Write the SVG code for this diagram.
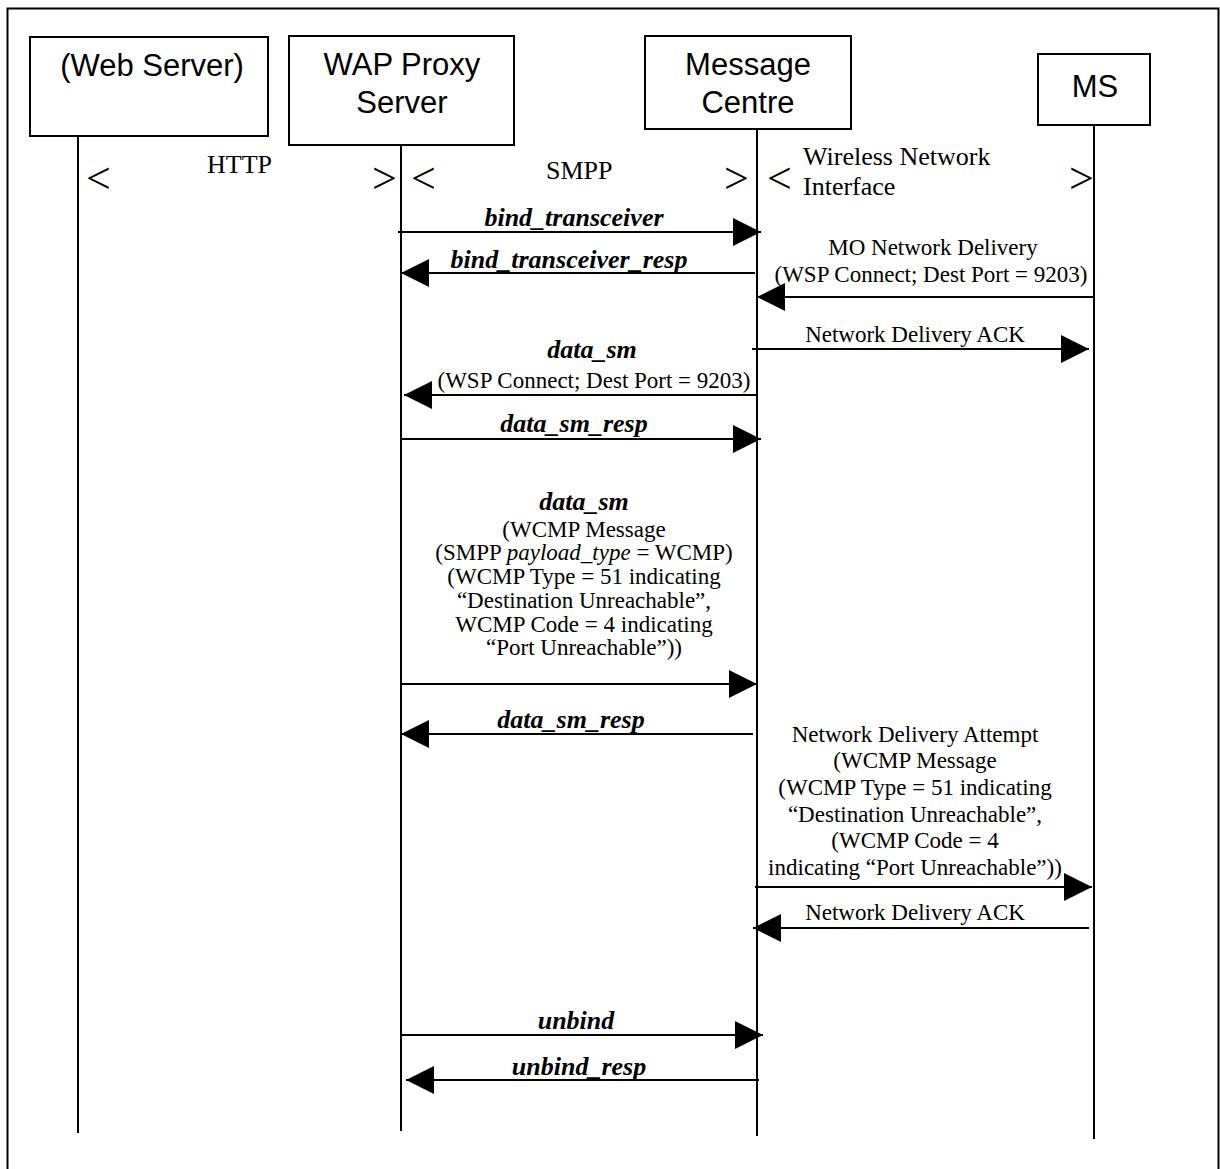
<svg xmlns="http://www.w3.org/2000/svg" width="1220" height="1169" viewBox="0 0 1220 1169">
  <style>
    .frame { fill: none; stroke: #000; stroke-width: 2; }
    .box { fill: #fff; stroke: #000; stroke-width: 2; }
    .life { stroke: #000; stroke-width: 2; fill: none; }
    .msg { stroke: #000; stroke-width: 2; fill: none; marker-end: url(#head); }
    .title { font-family: "Liberation Sans", Arial, sans-serif; font-size: 31px; fill: #000; text-anchor: middle; }
    .proto { font-family: "Liberation Serif", "Times New Roman", serif; font-size: 26px; fill: #000; }
    .chev { font-family: "Liberation Serif", "Times New Roman", serif; font-size: 44px; fill: #000; }
    .op { font-family: "Liberation Serif", "Times New Roman", serif; font-size: 26px; font-weight: bold; font-style: italic; fill: #000; text-anchor: middle; }
    .note { font-family: "Liberation Serif", "Times New Roman", serif; font-size: 23px; fill: #000; text-anchor: middle; }
  </style>
  <defs>
    <marker id="head" markerUnits="userSpaceOnUse" markerWidth="28" markerHeight="28" refX="28" refY="14" orient="auto" viewBox="0 0 28 28">
      <path d="M0,0 L28,14 L0,28 Z" fill="#000"/>
    </marker>
  </defs>

  <rect class="frame" x="7.5" y="8.5" width="1211" height="1200"/>

  <!-- lifelines -->
  <g id="lifelines">
    <line class="life" x1="78" y1="136" x2="78" y2="1133"/>
    <line class="life" x1="401" y1="145" x2="401" y2="1131"/>
    <line class="life" x1="757" y1="129" x2="757" y2="1136"/>
    <line class="life" x1="1094" y1="125" x2="1094" y2="1139"/>
  </g>

  <!-- participants -->
  <g id="web-server">
    <rect class="box" x="30" y="37" width="238" height="99"/>
    <text class="title" x="152" y="76">(Web Server)</text>
  </g>
  <g id="wap-proxy">
    <rect class="box" x="289" y="36" width="225" height="109"/>
    <text class="title" x="402" y="75">WAP Proxy</text>
    <text class="title" x="402" y="113">Server</text>
  </g>
  <g id="message-centre">
    <rect class="box" x="645" y="36" width="206" height="93"/>
    <text class="title" x="748" y="75">Message</text>
    <text class="title" x="748" y="113">Centre</text>
  </g>
  <g id="ms">
    <rect class="box" x="1038" y="54" width="112" height="71"/>
    <text class="title" x="1095" y="97">MS</text>
  </g>

  <!-- interface spans -->
  <g id="interfaces">
    <text class="chev" x="86" y="193">&lt;</text>
    <text class="proto" x="207" y="173">HTTP</text>
    <text class="chev" x="372" y="193">&gt;</text>
    <text class="chev" x="411" y="193">&lt;</text>
    <text class="proto" x="546" y="179">SMPP</text>
    <text class="chev" x="724" y="193">&gt;</text>
    <text class="chev" x="767" y="193">&lt;</text>
    <text class="proto" x="803" y="165">Wireless Network</text>
    <text class="proto" x="803" y="195">Interface</text>
    <text class="chev" x="1069" y="193">&gt;</text>
  </g>

  <!-- messages -->
  <g id="connectors">
    <line class="msg" x1="398" y1="232" x2="761" y2="232"/>
    <line class="msg" x1="755" y1="273" x2="401" y2="273"/>
    <line class="msg" x1="1094" y1="297" x2="757" y2="297"/>
    <line class="msg" x1="752" y1="349" x2="1089" y2="349"/>
    <line class="msg" x1="756" y1="395" x2="404" y2="395"/>
    <line class="msg" x1="401" y1="439" x2="761" y2="439"/>
    <line class="msg" x1="401" y1="684" x2="757" y2="684"/>
    <line class="msg" x1="753" y1="734" x2="401" y2="734"/>
    <line class="msg" x1="755" y1="887" x2="1092" y2="887"/>
    <line class="msg" x1="1089" y1="928" x2="753" y2="928"/>
    <line class="msg" x1="401" y1="1035" x2="763" y2="1035"/>
    <line class="msg" x1="759" y1="1080" x2="406" y2="1080"/>
  </g>

  <!-- message labels -->
  <g id="labels">
    <text class="op" x="574" y="226">bind_transceiver</text>
    <text class="op" x="569" y="268">bind_transceiver_resp</text>

    <text class="note" x="933" y="255">MO Network Delivery</text>
    <text class="note" x="931" y="282">(WSP Connect; Dest Port = 9203)</text>

    <text class="note" x="915" y="342">Network Delivery ACK</text>

    <text class="op" x="592" y="358">data_sm</text>
    <text class="note" x="594" y="388">(WSP Connect; Dest Port = 9203)</text>

    <text class="op" x="574" y="432">data_sm_resp</text>

    <text class="op" x="584" y="510">data_sm</text>
    <text class="note" x="584" y="537">(WCMP Message</text>
    <text class="note" x="584" y="560">(SMPP <tspan font-style="italic">payload_type</tspan> = WCMP)</text>
    <text class="note" x="584" y="584">(WCMP Type = 51 indicating</text>
    <text class="note" x="584" y="608">“Destination Unreachable”,</text>
    <text class="note" x="584" y="632">WCMP Code = 4 indicating</text>
    <text class="note" x="584" y="655">“Port Unreachable”))</text>

    <text class="op" x="571" y="728">data_sm_resp</text>

    <text class="note" x="915" y="742">Network Delivery Attempt</text>
    <text class="note" x="915" y="768">(WCMP Message</text>
    <text class="note" x="915" y="795">(WCMP Type = 51 indicating</text>
    <text class="note" x="915" y="822">“Destination Unreachable”,</text>
    <text class="note" x="915" y="848">(WCMP Code = 4</text>
    <text class="note" x="915" y="875">indicating “Port Unreachable”))</text>

    <text class="note" x="915" y="920">Network Delivery ACK</text>

    <text class="op" x="576" y="1029">unbind</text>
    <text class="op" x="579" y="1075">unbind_resp</text>
  </g>
</svg>
